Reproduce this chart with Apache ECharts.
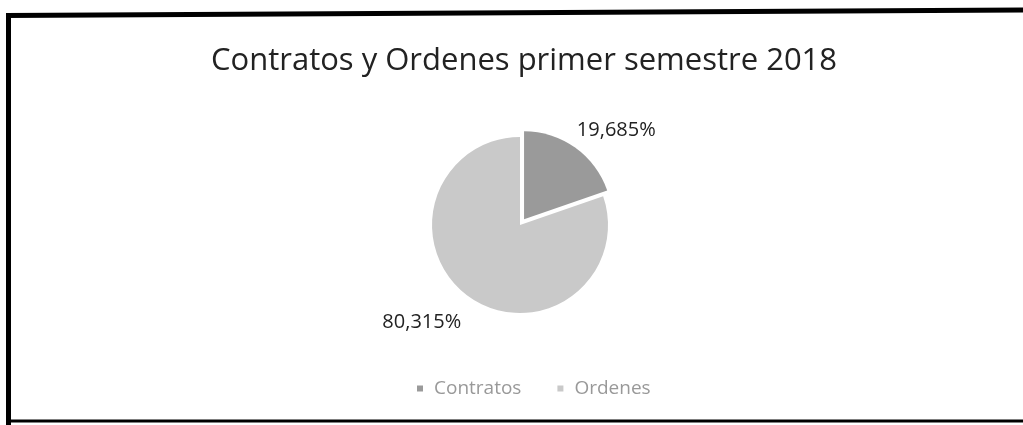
<!DOCTYPE html>
<html><head><meta charset="utf-8">
<script src="https://cdn.jsdelivr.net/npm/echarts@6/dist/echarts.min.js"></script>
<style>html,body{margin:0;padding:0;background:#fff}#c{width:1023px;height:425px}</style>
</head><body><div id="c"></div>
<script>
const categories = ['Contratos', 'Ordenes'];
const values = [19.685, 80.315];
const colors = ['#9a9a9a', '#c9c9c9'];
const labelOffsets = [[-16, 1], [10, 8]];

const chart = echarts.init(document.getElementById('c'));
chart.setOption({
  animation: false,
  title: {
    text: 'Contratos y Ordenes primer semestre 2018',
    left: 206, top: 41,
    textStyle: { fontFamily: 'Open Sans', fontWeight: 'normal', fontSize: 31, color: '#222' }
  },
  legend: {
    top: 374, left: 412,
    itemWidth: 6, itemHeight: 6, itemGap: 36, icon: 'rect',
    textStyle: { fontFamily: 'Open Sans', fontSize: 19, color: '#999', padding: [0, 0, 0, 6] },
    data: categories
  },
  graphic: [
    { type: 'line', shape: { x1: 8.5, y1: 13, x2: 8.5, y2: 425 }, style: { stroke: '#000', lineWidth: 5 } },
    { type: 'polyline', shape: { points: [[6, 15.5], [1023, 10]] }, style: { stroke: '#000', lineWidth: 5 } },
    { type: 'line', shape: { x1: 8, y1: 421, x2: 1023, y2: 421 }, style: { stroke: '#000', lineWidth: 3 } }
  ],
  series: [{
    type: 'pie',
    center: [520, 225], radius: 88,
    startAngle: 90, clockwise: true,
    selectedMode: 'single', selectedOffset: 7,
    label: {
      show: true, position: 'outside',
      formatter: p => p.value.toFixed(3).replace('.', ',') + '%',
      fontFamily: 'Open Sans', fontSize: 20, color: '#222'
    },
    labelLine: { show: false, length: 22, length2: 0 },
    data: categories.map((n, i) => ({
      name: n, value: values[i], selected: i === 0,
      itemStyle: { color: colors[i] },
      label: { offset: labelOffsets[i] },
      select: { label: { offset: labelOffsets[i] } }
    }))
  }]
});
</script></body></html>
